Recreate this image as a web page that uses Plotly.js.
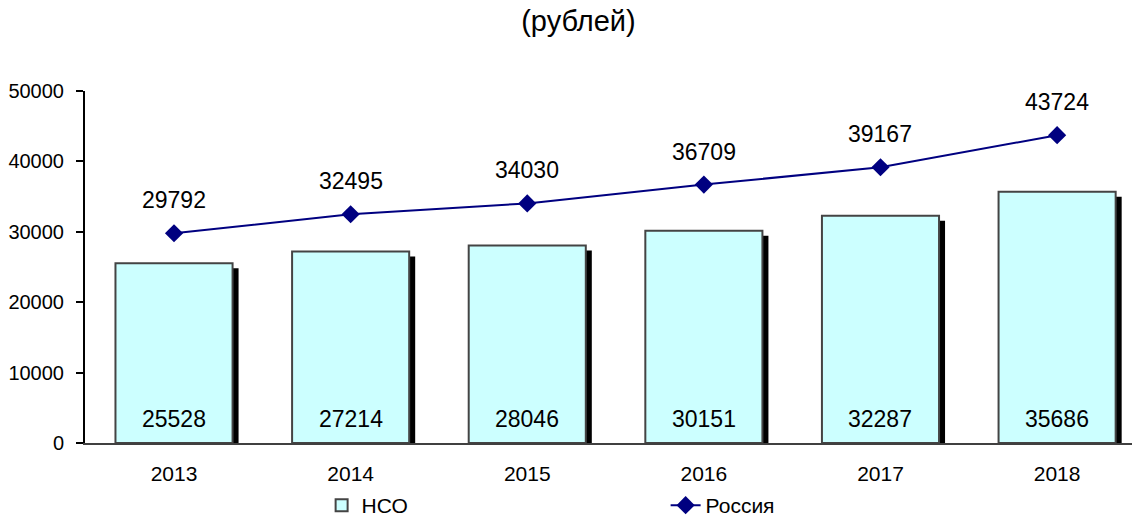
<!DOCTYPE html>
<html>
<head>
<meta charset="utf-8">
<script src="https://cdn.plot.ly/plotly-3.0.1.min.js"></script>
<style>html,body{margin:0;padding:0;background:#fff;}#chart{width:1132px;height:521px;}</style>
</head>
<body>
<div id="chart"></div>
<script>
const years = ['2013', '2014', '2015', '2016', '2017', '2018'];
const nso = [25528, 27214, 28046, 30151, 32287, 35686];
const russia = [29792, 32495, 34030, 36709, 39167, 43724];
const yTicks = [0, 10000, 20000, 30000, 40000, 50000];

const FONT = 'Liberation Sans, Arial, sans-serif';
const barW = 0.663;
const shadowDx = 0.034;
const shadowDy = 710;

const shadow = {
  type: 'bar', x: years, y: nso.map(v => v - shadowDy),
  width: barW, offset: -barW / 2 + shadowDx,
  marker: {color: '#000000', line: {width: 0}},
  showlegend: false, hoverinfo: 'skip'
};
const bars = {
  type: 'bar', name: 'НСО', x: years, y: nso,
  width: barW, offset: -barW / 2,
  marker: {color: '#CCFFFF', line: {color: '#444444', width: 2}}
};
const line = {
  type: 'scatter', mode: 'lines+markers', name: 'Россия', x: years, y: russia,
  line: {color: '#000080', width: 2},
  marker: {symbol: 'diamond', size: 14, color: '#000080'}
};

const annotations = [];
years.forEach((yr, i) => {
  annotations.push({x: i, y: 0, xref: 'x', yref: 'y', text: String(nso[i]), showarrow: false,
    yanchor: 'bottom', yshift: 9, font: {family: FONT, size: 23, color: '#000'}});
  annotations.push({x: i, y: russia[i], xref: 'x', yref: 'y', text: String(russia[i]), showarrow: false,
    yanchor: 'bottom', yshift: 18, font: {family: FONT, size: 23, color: '#000'}});
});

const layout = {
  width: 1132, height: 521,
  margin: {l: 85, r: 0, t: 91, b: 78, autoexpand: false},
  paper_bgcolor: '#ffffff', plot_bgcolor: '#ffffff',
  font: {family: FONT, size: 20, color: '#000'},
  title: {text: '(рублей)', x: 0.511, xanchor: 'center', y: 0.96, yref: 'container', yanchor: 'middle',
    font: {family: FONT, size: 29, color: '#000'}},
  barmode: 'overlay',
  showlegend: true,
  legend: {orientation: 'h', x: 0.226, xanchor: 'left', y: -0.236, yanchor: 'bottom',
    font: {family: FONT, size: 21, color: '#000'}, entrywidth: 299, entrywidthmode: 'pixels',
    traceorder: 'normal', bgcolor: 'rgba(0,0,0,0)'},
  xaxis: {type: 'category', range: [-0.504, 5.424], showgrid: false, zeroline: false,
    showline: true, linecolor: '#404040', linewidth: 2, ticks: '',
    tickfont: {family: FONT, size: 21}, ticklabelstandoff: 11, fixedrange: true, automargin: false},
  yaxis: {range: [0, 50000], tickvals: yTicks, ticktext: yTicks.map(String),
    showgrid: false, zeroline: false, showline: true, linecolor: '#000', linewidth: 2,
    ticks: 'outside', ticklen: 7, tickwidth: 2, tickcolor: '#000',
    tickfont: {family: FONT, size: 20}, ticklabelstandoff: 8, fixedrange: true, automargin: false},
  annotations: annotations
};

Plotly.newPlot('chart', [shadow, bars, line], layout, {displayModeBar: false, staticPlot: true});
</script>
</body>
</html>
